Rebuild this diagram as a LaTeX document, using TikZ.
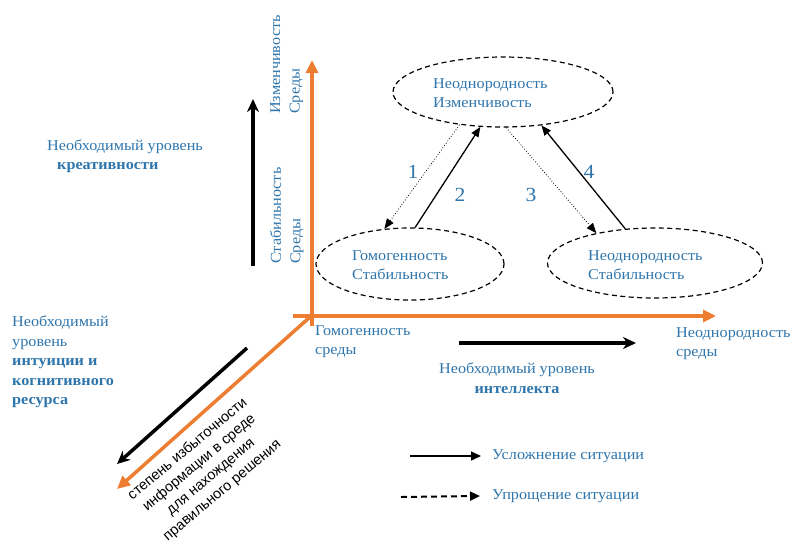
\documentclass[tikz,border=0pt]{standalone}
\usepackage{fontspec}
\setmainfont{Liberation Serif}[FakeStretch=1.08]
\newfontfamily\arialfont{Liberation Sans}
\usetikzlibrary{arrows.meta,shapes.geometric}
\definecolor{axisorange}{RGB}{237,125,49}
\definecolor{textblue}{RGB}{46,117,172}
\tikzset{
 axis/.style={axisorange,line width=3.5pt,-{Triangle[length=13pt,width=12pt]}},
 need/.style={black,line width=3.5pt,-{Stealth[length=13pt,width=12pt]}},
 state/.style={draw,ellipse,line width=1.2pt,dash pattern=on 5pt off 3.5pt,inner sep=0pt},
 lbl/.style={textblue,inner sep=0pt,align=left,font=\fontsize{15}{19.5}\selectfont},
 num/.style={textblue,inner sep=0pt,font=\fontsize{20}{22}\selectfont},
 up/.style={line width=1.3pt,-{Triangle[length=10pt,width=8pt]}},
 down/.style={line width=0.8pt,dotted,-{Triangle[length=10pt,width=8pt]}}
}
\begin{document}
\begin{tikzpicture}[x=1pt,y=-1pt]
 \useasboundingbox (0,0) rectangle (793,542);
 \coordinate (O) at (310,317);
 \coordinate (ybase) at (312,326);
 \coordinate (ytip) at (312,60);
 \coordinate (xbase) at (293,316);
 \coordinate (xtip) at (716,316);
 \coordinate (ztip) at (117,489);
 \draw[axis] (ybase) -- (ytip);
 \draw[axis] (xbase) -- (xtip);
 \draw[axis] (O) -- (ztip);
 \coordinate (cre1) at (253,266); \coordinate (cre2) at (253,99);
 \coordinate (int1) at (459,343); \coordinate (int2) at (636,343);
 \coordinate (cog1) at (247,348); \coordinate (cog2) at (117,464);
 \draw[need] (cre1) -- (cre2);
 \draw[need] (int1) -- (int2);
 \draw[need] (cog1) -- (cog2);
 \node[state,minimum width=220pt,minimum height=70pt] (top) at (503,92) {};
 \node[state,minimum width=188pt,minimum height=72pt] (left) at (410,264) {};
 \node[state,minimum width=215pt,minimum height=70pt] (right) at (655,263) {};
 \node[lbl,anchor=west] (toptxt) at (433,93) {Неоднородность\\Изменчивость};
 \node[lbl,anchor=west] (lefttxt) at (352,265) {Гомогенность\\Стабильность};
 \node[lbl,anchor=west] (righttxt) at (588,265) {Неоднородность\\Стабильность};
 \draw[down] (top.217) -- (left.126);
 \draw[up] (left.82) -- (top.237);
 \draw[down] (top.275) -- (right.153);
 \draw[up] (right.131) -- (top.319);
 \node[num] (n1) at (413,172) {1};
 \node[num] (n2) at (460,195) {2};
 \node[num] (n3) at (531,195) {3};
 \node[num] (n4) at (589,172) {4};
 \node[lbl,rotate=90,anchor=north west] (ytop) at (270,114) {Изменчивость\\Среды};
 \node[lbl,rotate=90,anchor=north west] (ybot) at (270,264) {Стабильность\\Среды};
 \node[lbl,anchor=north west] (xleft) at (315,325) {Гомогенность\\среды};
 \node[lbl,anchor=north west] (xright) at (676,327) {Неоднородность\\среды};
 \node[lbl,anchor=west] (creat) at (47,156) {Необходимый уровень\\\hspace*{10pt}\textbf{креативности}};
 \node[lbl,align=center] (intel) at (517,378) {Необходимый уровень\\\textbf{интеллекта}};
 \node[lbl,anchor=north west] (intu) at (12,316) {Необходимый\\уровень\\\textbf{интуиции и}\\\textbf{когнитивного}\\\textbf{ресурса}};
 \node[rotate=40,align=center,inner sep=0pt,font=\arialfont\fontsize{14.5}{18}\selectfont] (redund) at (205,470) {степень избыточности\\информации в среде\\для нахождения\\правильного решения};
 \node[lbl,anchor=west] (harder) at (492,456) {Усложнение ситуации};
 \node[lbl,anchor=west] (easier) at (492,496) {Упрощение ситуации};
 \coordinate (hstart) at (410,456);
 \coordinate (estart) at (401,497);
 \draw[line width=1.3pt,-{Triangle[length=10pt,width=9pt]}] (hstart) -- ([xshift=-11pt]harder.west);
 \draw[line width=2pt,dash pattern=on 6pt off 4pt,-{Triangle[length=10pt,width=9pt]}] (estart) -- ([xshift=-12pt]easier.west);
\end{tikzpicture}
\end{document}
